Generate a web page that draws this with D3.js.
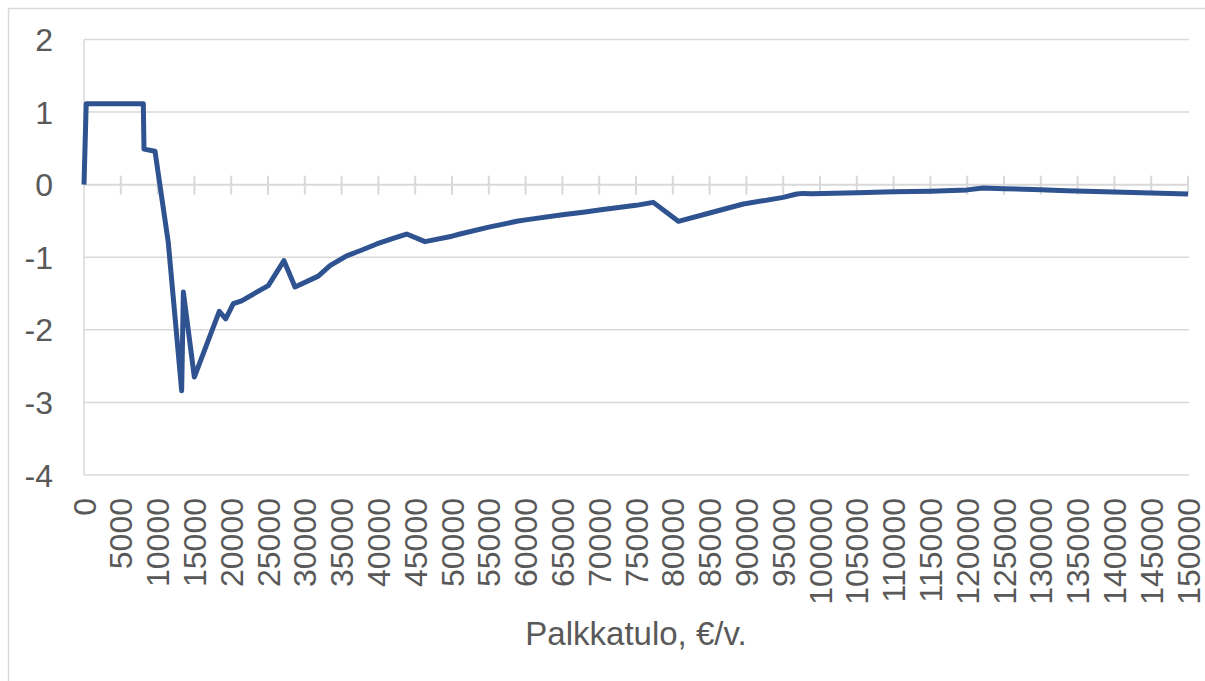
<!DOCTYPE html>
<html>
<head>
<meta charset="utf-8">
<script src="https://cdn.jsdelivr.net/npm/d3@7"></script>
<style>
  body { margin: 0; background: #fff; }
  text { font-family: "Liberation Sans", Arial, sans-serif; fill: #595959; }
</style>
</head>
<body>
<div id="chart"></div>
<script>
"use strict";

// palkkatulo (€/v.) and the plotted change
var incomes = [0, 300, 8060, 8150, 9650, 11450, 13270, 13500, 14990, 18380, 19250, 20290,
    21420, 25040, 27170, 28670, 31830, 33420, 35690, 37500, 39770, 42000, 43840, 46330,
    50000, 51090, 55000, 58790, 60000, 65000, 67840, 70000, 75000, 77350, 80750, 85000,
    89580, 90000, 95000, 96830, 97730, 99000, 105000, 110000, 115000, 120000, 122150,
    125000, 130000, 133500, 140000, 145000, 150000];
var values = [0, 1.115, 1.115, 0.49, 0.46, -0.795, -2.84, -1.48, -2.65, -1.745, -1.85, -1.64,
    -1.60, -1.39, -1.047, -1.41, -1.26, -1.115, -0.98, -0.91, -0.817, -0.74, -0.68, -0.785,
    -0.71, -0.68, -0.585, -0.505, -0.485, -0.415, -0.38, -0.35, -0.285, -0.244, -0.505, -0.39,
    -0.266, -0.26, -0.175, -0.128, -0.12, -0.125, -0.11, -0.098, -0.09, -0.072, -0.045,
    -0.055, -0.07, -0.083, -0.10, -0.115, -0.13];

var xTicks = d3.range(0, 150001, 5000);
var yTicks = [2, 1, 0, -1, -2, -3, -4];

var width = 1205, height = 681;
var svg = d3.select("#chart").append("svg")
    .attr("width", width)
    .attr("height", height);

// outer chart border (only top and left visible)
svg.append("rect")
    .attr("x", 8.5).attr("y", 8.5)
    .attr("width", 1300).attr("height", 800)
    .attr("fill", "none")
    .attr("stroke", "#d9d9d9")
    .attr("stroke-width", 1.5);

var x = d3.scaleLinear().domain([0, 150000]).range([84, 1188]);
var y = d3.scaleLinear().domain([-4, 2]).range([475, 39.5]);

// horizontal gridlines
svg.append("g").selectAll("line")
    .data(yTicks.filter(function(d){ return d !== 0; }))
    .enter().append("line")
        .attr("x1", x(0)).attr("x2", x(150000) + 1)
        .attr("y1", function(d){ return y(d); })
        .attr("y2", function(d){ return y(d); })
        .attr("stroke", "#d9d9d9")
        .attr("stroke-width", 1.5);

// vertical axis line
svg.append("line")
    .attr("x1", x(0)).attr("x2", x(0))
    .attr("y1", y(2)).attr("y2", y(-4))
    .attr("stroke", "#d9d9d9")
    .attr("stroke-width", 1.5);

// category axis at zero with cross tick marks
svg.append("line")
    .attr("x1", x(0)).attr("x2", x(150000))
    .attr("y1", y(0)).attr("y2", y(0))
    .attr("stroke", "#d9d9d9")
    .attr("stroke-width", 2);
svg.append("g").selectAll("line")
    .data(xTicks.slice(1))
    .enter().append("line")
        .attr("x1", function(d){ return x(d); })
        .attr("x2", function(d){ return x(d); })
        .attr("y1", y(0) - 9).attr("y2", y(0) + 10)
        .attr("stroke", "#d9d9d9")
        .attr("stroke-width", 2);

// y labels
svg.append("g").selectAll("text")
    .data(yTicks)
    .enter().append("text")
        .attr("x", 53)
        .attr("y", function(d){ return y(d); })
        .attr("dy", "0.36em")
        .attr("text-anchor", "end")
        .attr("font-size", 32)
        .text(function(d){ return d; });

// x labels, rotated
svg.append("g").selectAll("text")
    .data(xTicks)
    .enter().append("text")
        .attr("transform", function(d){ return "translate(" + x(d) + ",498) rotate(-90)"; })
        .attr("dy", "0.36em")
        .attr("text-anchor", "end")
        .attr("font-size", 32)
        .text(function(d){ return d; });

// axis title
svg.append("text")
    .attr("x", 636).attr("y", 645)
    .attr("text-anchor", "middle")
    .attr("font-size", 33)
    .text("Palkkatulo, €/v.");

// data line
var line = d3.line()
    .x(function(d){ return x(d[0]); })
    .y(function(d){ return y(d[1]); });

svg.append("path")
    .datum(d3.zip(incomes, values))
    .attr("d", line)
    .attr("fill", "none")
    .attr("stroke", "#2f5290")
    .attr("stroke-width", 5)
    .attr("stroke-linejoin", "round");
</script>
</body>
</html>
